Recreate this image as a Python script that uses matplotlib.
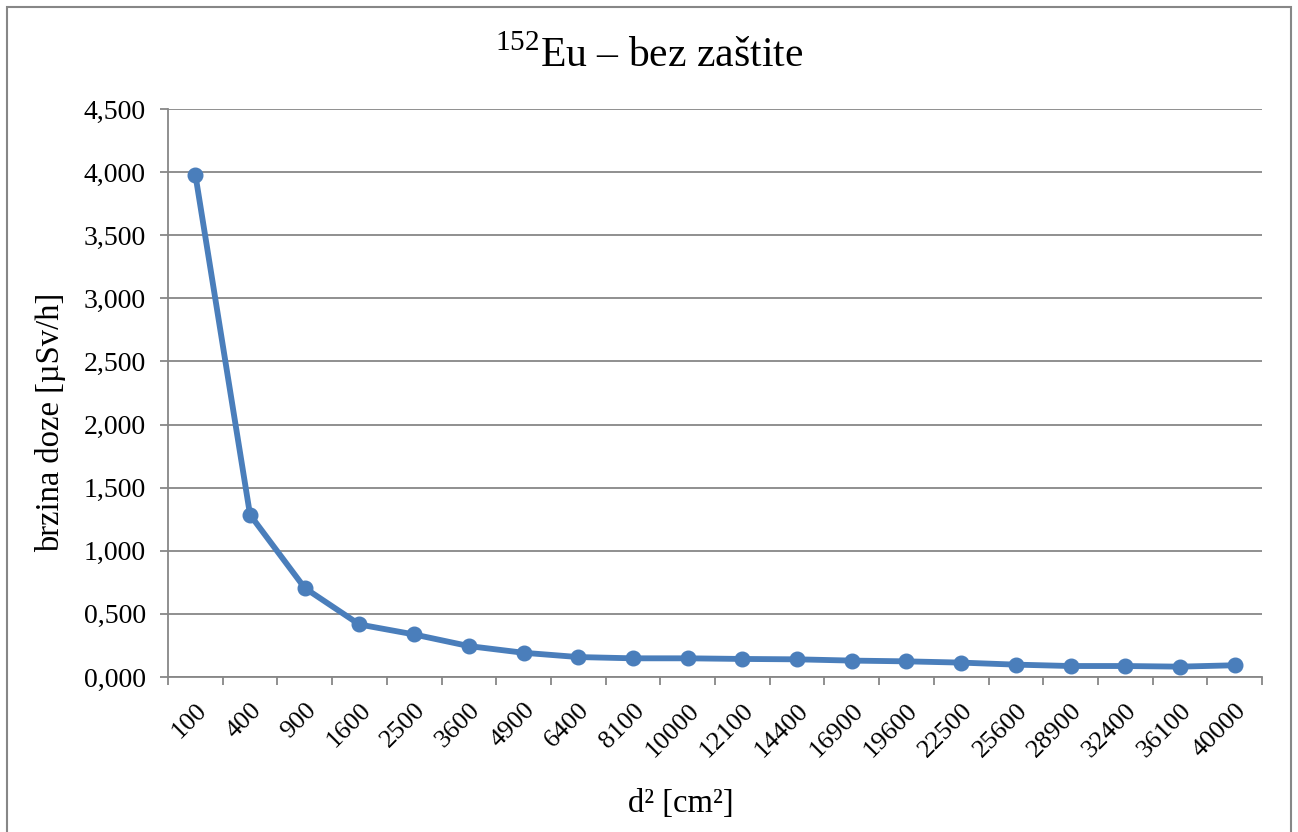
import numpy as np
import matplotlib
matplotlib.use('Agg')
import matplotlib.pyplot as plt
from matplotlib.patches import Rectangle
from matplotlib.ticker import FuncFormatter, FixedLocator

plt.rcParams['font.family'] = ['Liberation Serif', 'DejaVu Serif']
plt.rcParams['mathtext.fontset'] = 'custom'
plt.rcParams['mathtext.rm'] = 'Liberation Serif'

# d^2 [cm^2] kategorije i brzina doze [uSv/h]
d2 = ["100", "400", "900", "1600", "2500", "3600", "4900", "6400", "8100", "10000",
      "12100", "14400", "16900", "19600", "22500", "25600", "28900", "32400", "36100", "40000"]
doza = [3.98, 1.285, 0.705, 0.416, 0.337, 0.245, 0.192, 0.158, 0.148, 0.148,
        0.143, 0.140, 0.130, 0.124, 0.114, 0.098, 0.087, 0.087, 0.082, 0.093]

siva = '#878787'

fig = plt.figure(figsize=(12.98, 8.32), dpi=100)
ax = fig.add_axes([168/1298, 1-677/832, (1262-168)/1298, (677-109)/832])

x = np.arange(len(d2))
ax.plot(x, doza, color='#4a7ebb', lw=4.2, marker='o', ms=10.5, zorder=3)

ax.set_xlim(-0.5, len(d2)-0.5)
ax.set_ylim(0, 4.5)
ax.set_yticks(np.arange(0, 4.51, 0.5))
ax.yaxis.set_major_formatter(FuncFormatter(lambda v, p: ("%.3f" % v).replace('.', ',')))

ax.set_xticks(x)
ax.set_xticklabels(d2, rotation=45, ha='right', va='top', rotation_mode='anchor', fontsize=19)
ax.xaxis.set_minor_locator(FixedLocator(np.arange(-0.5, len(d2), 1.0)))
ax.tick_params(axis='x', which='major', length=0, pad=16)
ax.tick_params(axis='x', which='minor', length=6, color=siva, width=1.3)
ax.tick_params(axis='y', length=6, color=siva, width=1.3, labelsize=20, pad=10)

ax.grid(axis='y', color=siva, lw=1.3)
ax.set_axisbelow(True)
for s in ['top', 'right']:
    ax.spines[s].set_visible(False)
for s in ['left', 'bottom']:
    ax.spines[s].set_color(siva)
    ax.spines[s].set_linewidth(1.3)

ax.set_ylabel("brzina doze [µSv/h]", fontsize=23.5)
ax.yaxis.set_label_coords(-0.093, 0.449)
ax.set_xlabel("d² [cm²]", fontsize=23.5)
ax.xaxis.set_label_coords(0.469, -0.196)
fig.text(0.5, 1-56/832, r"$^{152}$Eu – bez zaštite", ha='center', va='center', fontsize=30)

fig.patches.append(Rectangle((7/1298, -0.01), 1284/1298, 1-7/832+0.01, transform=fig.transFigure,
                             fill=False, edgecolor=siva, lw=1.5, clip_on=False))

plt.savefig("out.png", dpi=100)
